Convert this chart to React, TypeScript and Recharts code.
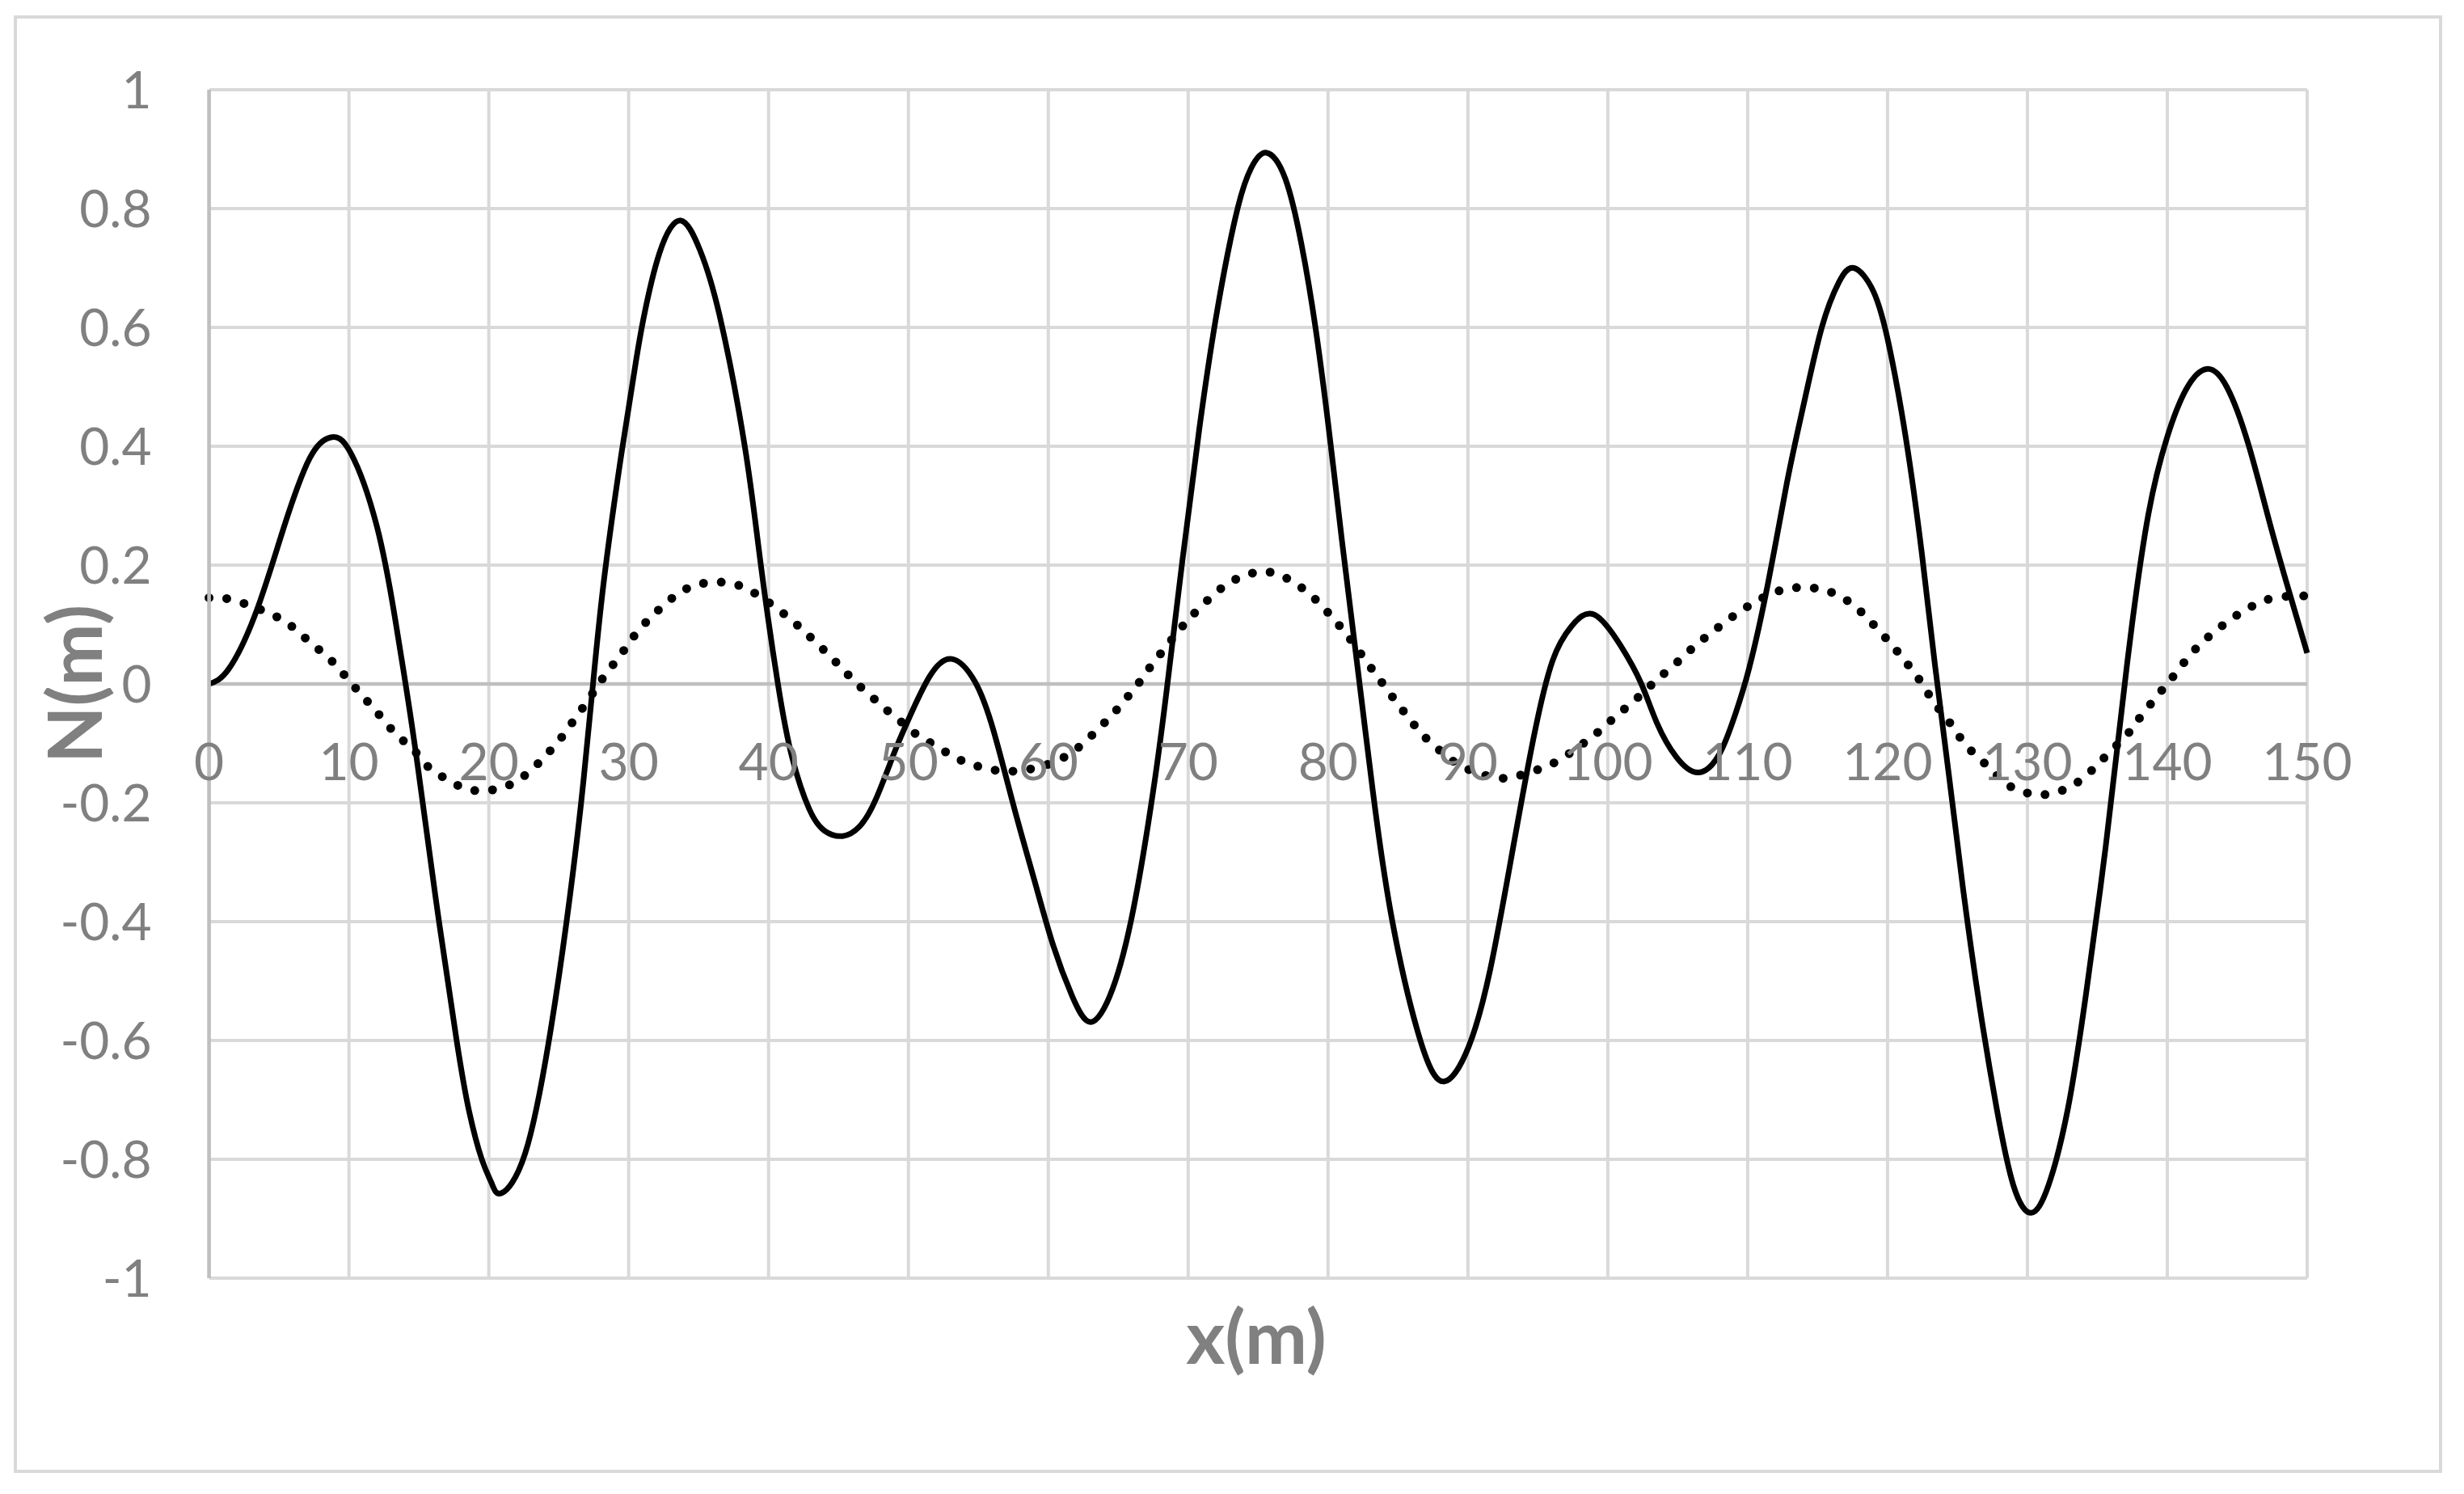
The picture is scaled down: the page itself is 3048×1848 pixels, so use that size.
import { LineChart, Line, XAxis, YAxis, CartesianGrid, ReferenceLine } from 'recharts';

// solid curve
const solidX = [
  0, 1.4, 3.35, 5.3, 7.2, 8.7, 10.1, 12, 13.3, 14.05, 14.9, 16.2, 17.7, 18.6, 19.5, 20.2, 20.9, 22.6, 24.3, 25.56, 26.6,
  27.45, 28.26, 29.5, 30.5, 31.06, 32.2, 33.7, 35.1, 36.5, 38.3, 39.45, 40.67, 41.7, 42.9, 44, 45.3, 46.5, 47.65, 49.0, 50.0,
  51.5, 53.1, 54.75, 56.1, 57.6, 59, 60.35, 61.7, 63.05, 64.6, 66.1, 67.5, 68.45, 69.6, 70.8, 72.1, 73.5, 74.5, 75.6, 76.95, 78.1,
  79.1, 80.1, 81.0, 82.1, 83.2, 84.6, 86.6, 88.3, 90.06, 91.6, 93.15, 94.7, 96.05, 97.4, 99.0, 100.9, 102.4, 103.5, 104.9,
  106.5, 108.0, 109.1, 110.1, 111.45, 112.8, 114.0, 115.3, 116.5, 117.6, 119.0, 120.1, 121.3, 122.45, 123.4, 124.4, 125.4, 126.6, 127.8, 129.0,
  130.25, 131.5, 132.9, 134.2, 135.6, 136.7, 137.5, 138.65, 140, 141.35, 142.8, 144.25, 145.8, 147.3, 148.7, 150,
];
const solidN = [
  0, 0.025, 0.12, 0.26, 0.38, 0.415, 0.39, 0.265, 0.11, 0, -0.135, -0.36, -0.6, -0.72, -0.8, -0.84, -0.857, -0.79, -0.6, -0.4, -0.2,
  0, 0.18, 0.39, 0.54, 0.615, 0.725, 0.78, 0.73, 0.62, 0.4, 0.2, 0, -0.125, -0.21, -0.247, -0.256, -0.24, -0.195, -0.115, -0.06,
  0.012, 0.042, 0.004, -0.08, -0.212, -0.33, -0.44, -0.525, -0.569, -0.513, -0.377, -0.18, -0.013, 0.21, 0.43, 0.632, 0.797, 0.868, 0.894, 0.85, 0.74,
  0.6, 0.42, 0.24, 0.03, -0.18, -0.4, -0.6, -0.669, -0.61, -0.48, -0.286, -0.09, 0.039, 0.097, 0.117, 0.065, 0, -0.065, -0.123,
  -0.149, -0.117, -0.052, 0.026, 0.169, 0.338, 0.47, 0.6, 0.675, 0.7, 0.66, 0.57, 0.415, 0.22, 0.03, -0.156, -0.345, -0.545, -0.714, -0.844,
  -0.89, -0.844, -0.714, -0.52, -0.273, -0.052, 0.104, 0.286, 0.416, 0.496, 0.53, 0.5, 0.403, 0.273, 0.156, 0.052,
];

// dotted curve
const dottedX = [
  0, 1.4, 2.9, 4.2, 5.5, 6.6, 7.7, 8.8, 9.75, 10.7, 11.65, 12.6, 13.6, 14.6, 15.6, 16.75, 18.0, 19.4, 20.85, 22.1,
  23.25, 24.25, 25.2, 26.05, 26.9, 27.7, 28.5, 29.4, 30.2, 31.2, 32.2, 33.3, 34.5, 35.9, 37.4, 38.7, 39.9, 41.1, 42.2, 43.25,
  44.3, 45.3, 46.3, 47.4, 48.5, 49.6, 50.7, 51.95, 53.2, 54.5, 55.9, 57.35, 58.75, 60.0, 61.3, 62.5, 63.6, 64.6, 65.55, 66.45,
  67.3, 68.2, 69.1, 70, 71, 72.1, 73.3, 74.7, 76.1, 77.4, 78.6, 79.65, 80.6, 81.5, 82.4, 83.2, 84.05, 84.9, 85.8, 86.7,
  87.8, 88.95, 90.15, 91.6, 92.95, 94.35, 95.7, 97.0, 98.2, 99.3, 100.4, 101.5, 102.6, 103.6, 104.7, 105.8, 106.9, 108, 109.2, 110.4,
  111.7, 113.05, 114.5, 115.9, 117.2, 118.3, 119.3, 120.3, 121.2, 122.1, 122.9, 123.7, 124.6, 125.4, 126.4, 127.45, 128.55, 129.9, 131.3, 132.7,
  133.9, 135, 136, 137.1, 137.9, 138.8, 139.7, 140.6, 141.5, 142.5, 143.6, 144.8, 146, 147.3, 148.9, 150,
];
const dottedN = [
  0.145, 0.143, 0.132, 0.12, 0.104, 0.083, 0.061, 0.038, 0.013, -0.013, -0.038, -0.064, -0.09, -0.11, -0.138, -0.157, -0.173, -0.18, -0.175, -0.162,
  -0.14, -0.116, -0.09, -0.062, -0.034, -0.006, 0.021, 0.048, 0.075, 0.103, 0.126, 0.148, 0.164, 0.171, 0.169, 0.157, 0.139, 0.118, 0.096, 0.073,
  0.049, 0.025, 0.001, -0.022, -0.045, -0.066, -0.087, -0.104, -0.122, -0.135, -0.144, -0.147, -0.143, -0.135, -0.121, -0.1, -0.075, -0.051, -0.025, 0.001,
  0.029, 0.056, 0.083, 0.108, 0.132, 0.156, 0.175, 0.187, 0.187, 0.173, 0.153, 0.129, 0.104, 0.078, 0.049, 0.023, -0.004, -0.031, -0.058, -0.084,
  -0.108, -0.13, -0.145, -0.156, -0.158, -0.149, -0.138, -0.121, -0.101, -0.081, -0.058, -0.036, -0.013, 0.009, 0.031, 0.055, 0.077, 0.097, 0.118, 0.136,
  0.152, 0.161, 0.162, 0.155, 0.139, 0.117, 0.092, 0.066, 0.04, 0.013, -0.016, -0.043, -0.07, -0.097, -0.122, -0.145, -0.169, -0.183, -0.186, -0.177,
  -0.16, -0.136, -0.112, -0.086, -0.061, -0.034, -0.008, 0.018, 0.045, 0.07, 0.092, 0.113, 0.13, 0.143, 0.148, 0.148,
];

const xTicks = [0, 10, 20, 30, 40, 50, 60, 70, 80, 90, 100, 110, 120, 130, 140, 150];
const yTicks = [-1, -0.8, -0.6, -0.4, -0.2, 0, 0.2, 0.4, 0.6, 0.8, 1];

const solidData = solidX.map((x, i) => ({ x, n: solidN[i] }));
const dottedData = dottedX.map((x, i) => ({ x, n: dottedN[i] }));

const W = 3048;
const H = 1848;
const PLOT_LEFT = 258.6;
const PLOT_TOP = 111;
const PLOT_RIGHT = 2854;
const PLOT_BOTTOM = 1581;
const Y_AXIS_W = 200;
const X_AXIS_H = 60;
const ZERO_Y = (PLOT_TOP + PLOT_BOTTOM) / 2;

const FONT = 'Lato, "Open Sans", sans-serif';
const GREY = '#808080';

const XTick = ({ x, payload }: any) => (
  <text x={x} y={ZERO_Y + 119} textAnchor="middle" fontFamily={FONT} fontSize={64} fill={GREY}>
    {payload.value}
  </text>
);

const App = () => {
  return (
    <div style={{ position: 'absolute', left: 0, top: 0, width: W, height: H, background: '#fff' }}>
      <div
        style={{
          position: 'absolute',
          left: 17,
          top: 19,
          width: 3004,
          height: 1803,
          border: '4px solid #d9d9d9',
          boxSizing: 'border-box',
        }}
      />
      <div style={{ position: 'absolute', left: 0, top: 0 }}>
        <LineChart
          width={W}
          height={H}
          margin={{
            top: PLOT_TOP,
            right: W - PLOT_RIGHT,
            bottom: H - PLOT_BOTTOM - X_AXIS_H,
            left: PLOT_LEFT - Y_AXIS_W,
          }}
        >
          <CartesianGrid stroke="#d9d9d9" strokeWidth={4} />
          <XAxis
            type="number"
            dataKey="x"
            domain={[0, 150]}
            ticks={xTicks}
            height={X_AXIS_H}
            axisLine={false}
            tickLine={false}
            tick={<XTick />}
            label={{
              content: () => (
                <text x={1554} y={1687} textAnchor="middle" fontFamily={FONT} fontWeight="bold" fontSize={92} fill={GREY}>
                  x(m)
                </text>
              ),
            }}
          />
          <YAxis
            type="number"
            domain={[-1, 1]}
            ticks={yTicks}
            width={Y_AXIS_W}
            axisLine={{ stroke: '#bfbfbf', strokeWidth: 4.5 }}
            tickLine={false}
            tickSize={0}
            tickMargin={71}
            tick={{ fontFamily: FONT, fontSize: 64, fill: GREY }}
            label={{
              content: () => (
                <text
                  x={126}
                  y={ZERO_Y}
                  transform={`rotate(-90 126 ${ZERO_Y})`}
                  textAnchor="middle"
                  fontFamily={FONT}
                  fontWeight="bold"
                  fontSize={92}
                  fill={GREY}
                >
                  N(m)
                </text>
              ),
            }}
          />
          <ReferenceLine y={0} stroke="#bfbfbf" strokeWidth={4.5} />
          <Line
            data={dottedData}
            dataKey="n"
            type="natural"
            stroke="#000"
            strokeWidth={11}
            strokeDasharray="0 22"
            strokeLinecap="round"
            dot={false}
            activeDot={false}
            isAnimationActive={false}
          />
          <Line
            data={solidData}
            dataKey="n"
            type="natural"
            stroke="#000"
            strokeWidth={7}
            dot={false}
            activeDot={false}
            isAnimationActive={false}
          />
        </LineChart>
      </div>
    </div>
  );
};

export default App;
